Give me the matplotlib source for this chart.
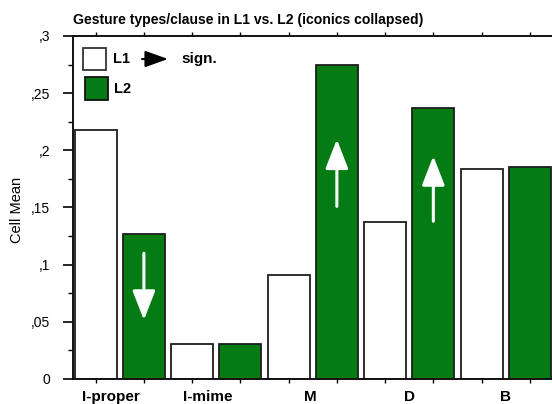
import numpy as np
import matplotlib
matplotlib.use("Agg")
import matplotlib.pyplot as plt
from matplotlib.patches import Rectangle
from matplotlib.ticker import MultipleLocator, FuncFormatter, FixedLocator
import matplotlib.transforms as mtransforms

plt.rcParams['font.family'] = ['Liberation Sans', 'DejaVu Sans']

# ---- data ----
categories = ["I-proper", "I-mime", "M", "D", "B"]
series_names = ["L1", "L2"]
l1_values = [0.218, 0.0306, 0.091, 0.137, 0.184]
l2_values = [0.127, 0.0306, 0.275, 0.237, 0.185]
series_colors = ["#ffffff", "#047b13"]
title = "Gesture types/clause in L1 vs. L2 (iconics collapsed)"
ylabel = "Cell Mean"
# significance arrows on L2 bars: (category index, start value, end value)
arrow_cats = [0, 2, 3]
arrow_from = [0.110, 0.151, 0.138]
arrow_to = [0.0516, 0.2096, 0.195]

W, H = 552, 404
fig = plt.figure(figsize=(W / 100, H / 100), dpi=100)
ax_left, ax_bottom, ax_top = 72.5, 379, 36
ax = fig.add_axes([ax_left / W, 1 - ax_bottom / H, 1 - ax_left / W, (ax_bottom - ax_top) / H])

n = len(categories)
pos_l1 = np.arange(n) * 2
pos_l2 = np.arange(n) * 2 + 1
bw = 0.87
edge = "#1e1e1e"
ax.bar(pos_l1, l1_values, width=bw, color=series_colors[0], edgecolor=edge, linewidth=1.3, zorder=2)
ax.bar(pos_l2, l2_values, width=bw, color=series_colors[1], edgecolor=edge, linewidth=1.3, zorder=2)

ax.set_xlim(-0.48, 9.46)
ax.set_ylim(0, 0.3)

# white arrows inside L2 bars
for c, y0, y1 in zip(arrow_cats, arrow_from, arrow_to):
    ax.annotate("", xy=(pos_l2[c], y1), xytext=(pos_l2[c], y0),
                arrowprops=dict(arrowstyle="-|>,head_length=1.8,head_width=0.7",
                                color="white", lw=2.2, shrinkA=0, shrinkB=0,
                                mutation_scale=10), zorder=5)

# spines
for s in ["left", "bottom", "top"]:
    ax.spines[s].set_linewidth(1.4)
    ax.spines[s].set_color("#111111")
ax.spines["right"].set_visible(False)

# y ticks
ax.yaxis.set_major_locator(MultipleLocator(0.05))
ax.yaxis.set_minor_locator(MultipleLocator(0.025))
def yfmt(v, p):
    if abs(v) < 1e-9:
        return "0"
    s = f"{v:.3f}".rstrip("0")
    return s.replace("0.", ",", 1)
ax.yaxis.set_major_formatter(FuncFormatter(yfmt))
ax.tick_params(axis="y", which="major", direction="out", length=7, width=1.2, pad=9, labelsize=10)
ax.tick_params(axis="y", which="minor", direction="out", length=3.5, width=1.0)

# x ticks: minor at bar centers (top & bottom), labels at group centers
bar_centers = np.sort(np.concatenate([pos_l1, pos_l2]))
ax.xaxis.set_minor_locator(FixedLocator(bar_centers))
group_centers = (pos_l1 + pos_l2) / 2
ax.set_xticks(group_centers)
ax.set_xticklabels(categories, fontweight="bold", fontsize=11)
ax.tick_params(axis="x", which="major", length=0, pad=8)
ax.tick_params(axis="x", which="minor", direction="out", length=3, width=1.0, top=True, bottom=True)
# slight left offsets for first two labels as in reference
offsets = [-9, -9, -2, 0, 0]
for lab, dx in zip(ax.get_xticklabels(), offsets):
    lab.set_transform(lab.get_transform() + mtransforms.ScaledTranslation(dx / 100, 0, fig.dpi_scale_trans))

# y label and title
fig.text(17 / W, 1 - 210 / H, ylabel, rotation=90, ha="center", va="center", fontsize=10.5)
fig.text(73 / W, 1 - 20 / H, title, ha="left", va="center", fontsize=10.1, fontweight="bold")

# legend (manual)
def fx(px):
    return (px - ax_left) / (W - ax_left)
def fy(py):
    return (ax_bottom - py) / (ax_bottom - ax_top)
ax.add_patch(Rectangle((fx(83), fy(70)), fx(106) - fx(83), fy(48) - fy(70), transform=ax.transAxes,
                       facecolor=series_colors[0], edgecolor="#333333", lw=1.3, zorder=6, clip_on=False))
ax.add_patch(Rectangle((fx(85), fy(100)), fx(108) - fx(85), fy(77) - fy(100), transform=ax.transAxes,
                       facecolor=series_colors[1], edgecolor="#111111", lw=1.3, zorder=6, clip_on=False))
ax.text(fx(113), fy(59), series_names[0], transform=ax.transAxes, ha="left", va="center",
        fontsize=10.5, fontweight="bold")
ax.text(fx(114), fy(89), series_names[1], transform=ax.transAxes, ha="left", va="center",
        fontsize=10.5, fontweight="bold")
ax.annotate("", xy=(fx(168), fy(59)), xytext=(fx(142), fy(59)), xycoords="axes fraction",
            textcoords="axes fraction",
            arrowprops=dict(arrowstyle="-|>,head_length=1.4,head_width=0.5", color="black",
                            lw=1.5, shrinkA=0, shrinkB=0, mutation_scale=10))
ax.text(fx(181), fy(59), "sign.", transform=ax.transAxes, ha="left", va="center",
        fontsize=11, fontweight="bold")

fig.savefig("out.png", dpi=100)
